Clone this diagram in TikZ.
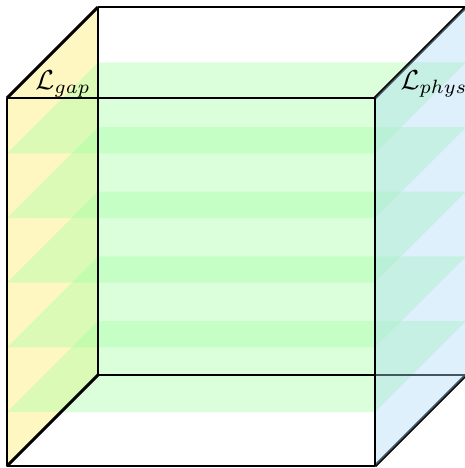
\documentclass[tikz,border=0pt]{standalone}
\begin{document}
\begin{tikzpicture}[x=0.4pt,y=-0.4pt]
\definecolor{slicegreen}{RGB}{164,255,164}
\definecolor{gapyellow}{RGB}{255,236,100}
\definecolor{physblue}{RGB}{170,217,245}
\tikzset{
  edge/.style={line width=1.15pt, line join=round},
  slice/.style={fill=slicegreen, fill opacity=0.4},
  gapface/.style={fill=gapyellow, fill opacity=0.4},
  physface/.style={fill=physblue, fill opacity=0.4},
  lbl/.style={inner sep=0pt, scale=1.1}
}
\useasboundingbox (0,0) rectangle (465,468);
% cube corners
\coordinate (F1) at (7,98);
\coordinate (F2) at (375,98);
\coordinate (F3) at (375,466);
\coordinate (F4) at (7,466);
\coordinate (B1) at (98,7);
\coordinate (B2) at (466,7);
\coordinate (B3) at (466,375);
\coordinate (B4) at (98,375);
% left face
\fill[gapface] (F1) -- (B1) -- (B4) -- (F4) -- cycle;
% green slices
\foreach \yf in {153.3,218,282.7,347.4,412.1}{
  \fill[slice] (7,\yf) -- (375,\yf) -- (466,\yf-91) -- (98,\yf-91) -- cycle;
}
% edges
\draw[edge] (B1) -- (B2);
\draw[edge] (B1) -- (B4) -- (B3);
\draw[edge] (F1) -- (B1);
\draw[edge] (F1) -- (F2);
\draw[edge] (F1) -- (F4) -- (F3);
\draw[edge] (F4) -- (B4);
\draw[edge] (F2) -- (B2);
\draw[edge] (F3) -- (B3);
% right face
\fill[physface] (F2) -- (B2) -- (B3) -- (F3) -- cycle;
\draw[edge] (F2) -- (F3);
% labels
\node[lbl] (lgap) at (63,84) {$\mathcal{L}_{gap}$};
\node[lbl] (lphys) at (434,84) {$\mathcal{L}_{phys}$};
\end{tikzpicture}
\end{document}
